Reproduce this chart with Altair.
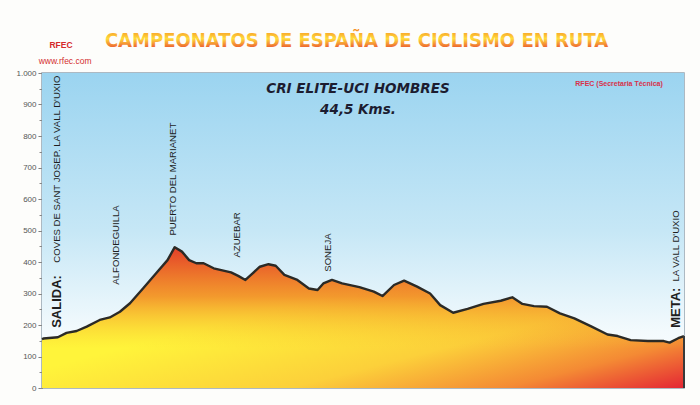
import altair as alt
import pandas as pd

# ---- profile data (km, altitude m) ----
km = [0, 0.1, 1.1, 1.7, 2.4, 3.1, 4.0, 4.7, 5.4, 6.1, 7.0, 8.0, 8.7, 9.2, 9.7,
      10.2, 10.7, 11.2, 11.9, 13.1, 13.6, 14.1, 14.6, 15.1, 15.7, 16.2, 16.8,
      17.7, 18.5, 19.1, 19.5, 20.1, 20.8, 22.0, 23.0, 23.6, 24.4, 25.1, 26.0,
      26.9, 27.6, 28.5, 29.5, 30.6, 31.8, 32.6, 33.3, 34.1, 35.0, 35.9, 36.9,
      38.1, 39.2, 39.9, 40.8, 42.0, 43.1, 43.5, 44.1, 44.5]
elev = [155, 157, 161, 175, 181, 195, 216, 224, 242, 269, 316, 369, 406, 447, 433,
        406, 396, 396, 380, 367, 356, 343, 364, 385, 393, 388, 359,
        343, 316, 311, 332, 343, 332, 320, 306, 292, 327, 341, 322,
        300, 263, 239, 251, 267, 277, 288, 267, 260, 258, 237, 221,
        195, 170, 165, 152, 149, 149, 144, 158, 165]

# ---- place annotations ----
place_text = ["ALFONDEGUILLA", "PUERTO DEL MARIANET", "AZUEBAR", "SONEJA"]
place_km = [5.15, 9.1, 13.5, 19.8]
place_elev = [328, 484, 414, 369]

endpoint_bold = ["SALIDA:", "META:"]
endpoint_name = ["COVES DE SANT JOSEP.  LA VALL D'UXIO", "LA VALL D'UXIO"]
endpoint_km = [1.05, 43.97]
endpoint_bold_elev = [191, 191]
endpoint_name_elev = [398, 338]

x_ticks = [0, 5, 10, 15, 20, 25, 30, 35, 40]
y_major = list(range(0, 1001, 100))
y_minor = list(range(0, 1001, 50))

main_title = ["CAMPEONATOS DE ESPAÑA DE CICLISMO EN RUTA"]
race_title = ["CRI ELITE-UCI HOMBRES", "44,5 Kms."]
race_title_km = [21.9, 21.9]
race_title_elev = [949, 882]
credit = "RFEC (Secretaria Técnica)"

profile = pd.DataFrame({"km": km, "elev": elev})
places = pd.DataFrame({"t": place_text, "km": place_km, "elev": place_elev})
ends_b = pd.DataFrame({"t": endpoint_bold, "km": endpoint_km, "elev": endpoint_bold_elev})
ends_n = pd.DataFrame({"t": endpoint_name, "km": endpoint_km, "elev": endpoint_name_elev})
titles = pd.DataFrame({"t": race_title, "km": race_title_km, "elev": race_title_elev})
main_df = pd.DataFrame({"t": main_title, "km": [21.8], "elev": [1102]})
credit_df = pd.DataFrame({"t": [credit], "km": [40.0], "elev": [965]})
logo_df = pd.DataFrame({"t": ["RFEC"], "km": [1.32], "elev": [1089]})
web_df = pd.DataFrame({"t": ["www.rfec.com"], "km": [1.6], "elev": [1038]})
last_df = pd.DataFrame({"km": [km[-1]], "elev": [elev[-1]], "zero": [0]})

xs = alt.Scale(domain=[0, 44.5], nice=False, zero=False)
ys = alt.Scale(domain=[0, 1000], nice=False)

X = alt.X("km:Q", scale=xs, axis=alt.Axis(values=x_ticks, title=None, grid=False,
          labelFontSize=8, labelColor="#555", tickSize=3, tickColor="#777",
          domainColor="#777", labelFont="Liberation Sans", labelPadding=3))
Y_major = alt.Y("elev:Q", scale=ys, axis=alt.Axis(values=y_major, title=None, grid=False,
          orient="left", labelFontSize=8, labelColor="#555", tickSize=4, tickColor="#777",
          domainColor="#777", labelFont="Liberation Sans",
          labelExpr="datum.value >= 1000 ? '1.000' : datum.label"))
Y_minor = alt.Y("elev:Q", scale=ys, axis=alt.Axis(values=y_minor, title=None, grid=False,
          orient="left", labels=False, tickSize=3, tickColor="#888", domain=False))
Y_plain = alt.Y("elev:Q", scale=ys, axis=None)
XP = alt.X("km:Q", scale=xs, axis=None)

sky = alt.Chart(pd.DataFrame({"a": [0]})).mark_rect(
    color=alt.LinearGradient(gradient="linear", x1=0, y1=0, x2=0, y2=1, stops=[
        alt.GradientStop(offset=0, color="#9bd4f0"),
        alt.GradientStop(offset=0.5, color="#c6e7f6"),
        alt.GradientStop(offset=0.82, color="#f3fafd"),
        alt.GradientStop(offset=1, color="#ffffff")])
).encode(x=alt.value(0), x2=alt.value("width"), y=alt.value(0), y2=alt.value("height"))

area_base = alt.Chart(profile).mark_area(
    color=alt.LinearGradient(gradient="linear", x1=0.35, y1=0.45, x2=1, y2=1, stops=[
        alt.GradientStop(offset=0, color="#fff43a"),
        alt.GradientStop(offset=0.45, color="#fcd03a"),
        alt.GradientStop(offset=0.75, color="#f48a34"),
        alt.GradientStop(offset=1, color="#e42634")])
).encode(x=X, y=Y_major)

area_top = alt.Chart(profile).mark_area(
    color=alt.LinearGradient(gradient="linear", x1=0, y1=0, x2=0, y2=1, stops=[
        alt.GradientStop(offset=0, color="rgba(226,56,40,0.97)"),
        alt.GradientStop(offset=0.35, color="rgba(238,118,40,0.72)"),
        alt.GradientStop(offset=0.72, color="rgba(248,190,50,0.0)"),
        alt.GradientStop(offset=1, color="rgba(255,240,60,0.0)")])
).encode(x=XP, y=Y_plain)

line = alt.Chart(profile).mark_line(color="#2b2a26", strokeWidth=2.4,
                                    strokeJoin="round").encode(x=XP, y=Y_minor)

edge = alt.Chart(last_df).mark_rule(color="#3a3a3a", strokeWidth=2).encode(
    x=XP, y=Y_plain, y2="zero:Q")

def vtext(df, size, weight="normal", color="#1e1e1e"):
    return alt.Chart(df).mark_text(angle=270, align="left", baseline="middle",
                                   fontSize=size, fontWeight=weight, color=color,
                                   font="Liberation Sans").encode(
        x=XP, y=Y_plain, text="t:N")

places_l = vtext(places, 9.6)
ends_b_l = vtext(ends_b, 13, "bold")
ends_n_l = vtext(ends_n, 9.6)

titles_l = alt.Chart(titles).mark_text(font="DejaVu Sans", fontSize=13.5,
                                       fontWeight="bold", fontStyle="italic",
                                       color="#1c1c30", align="center",
                                       baseline="middle").encode(
    x=XP, y=Y_plain, text="t:N")

main_l = alt.Chart(main_df).mark_text(
    font="DejaVu Sans Condensed, Liberation Sans Narrow, Liberation Sans",
    fontSize=20, fontWeight="bold", align="center", baseline="middle",
    color=alt.LinearGradient(gradient="linear", x1=0, y1=0, x2=0, y2=1, stops=[
        alt.GradientStop(offset=0, color="#f4801e"),
        alt.GradientStop(offset=0.45, color="#ffdc3c"),
        alt.GradientStop(offset=1, color="#e4222a")])
).encode(x=XP, y=Y_plain, text="t:N")

credit_l = alt.Chart(credit_df).mark_text(font="Liberation Sans", fontSize=7,
                                          fontWeight="bold", color="#d8304a",
                                          align="center", baseline="middle").encode(
    x=XP, y=Y_plain, text="t:N")

logo_l = alt.Chart(logo_df).mark_text(font="Liberation Sans", fontSize=8.5,
                                      fontWeight="bold", color="#d42a2a",
                                      align="center", baseline="middle").encode(
    x=XP, y=Y_plain, text="t:N")

web_l = alt.Chart(web_df).mark_text(font="Liberation Sans", fontSize=8.5,
                                    color="#d43030", align="center",
                                    baseline="middle").encode(
    x=XP, y=Y_plain, text="t:N")

chart = alt.layer(
    sky, area_base, area_top, line, edge, places_l, ends_b_l, ends_n_l,
    titles_l, main_l, credit_l, logo_l, web_l
).resolve_axis(y="independent").properties(
    width=642, height=315,
    autosize=alt.AutoSizeParams(type="none"),
    padding={"left": 42, "top": 73, "right": 16, "bottom": 17},
    background="#fdfdfb",
).configure_view(stroke="#93a3b0", strokeWidth=1.5)

chart.save("out.html", embed_options={"renderer": "svg", "actions": False})
